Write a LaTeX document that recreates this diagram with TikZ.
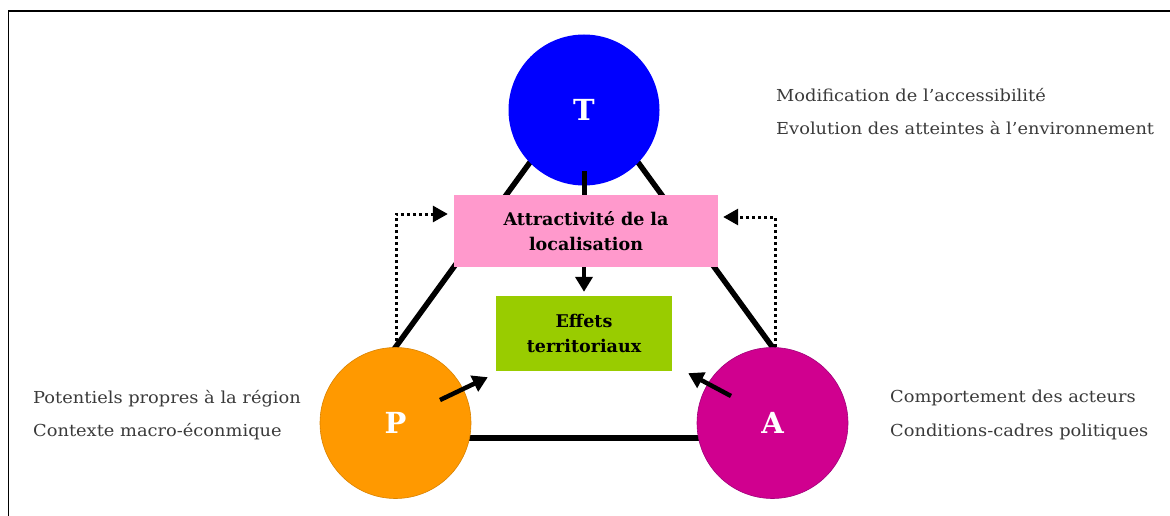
\documentclass[tikz,border=0pt]{standalone}
\usepackage{fontspec}
\setmainfont{DejaVu Serif}
\newfontfamily\notefont{DejaVu Serif}[FakeStretch=1.08]
\usetikzlibrary{arrows.meta,backgrounds,calc}
\definecolor{tblue}{HTML}{0000FF}
\definecolor{pinkbox}{HTML}{FF99CC}
\definecolor{greenbox}{HTML}{99CC00}
\definecolor{porange}{HTML}{FF9900}
\definecolor{porangeedge}{HTML}{D98200}
\definecolor{amag}{HTML}{D0008F}
\definecolor{amagedge}{HTML}{A0007A}
\definecolor{notegray}{HTML}{3A3A3A}
\begin{document}
\begin{tikzpicture}[x=1pt,y=-1pt,
  ball/.style={circle, minimum size=151pt, inner sep=0pt, text=white,
    font=\bfseries\fontsize{29}{29}\selectfont},
  box/.style={rectangle, inner sep=0pt, align=center,
    font=\bfseries\fontsize{17.5}{25}\selectfont},
  thickline/.style={line width=5.5pt},
  arr/.style={line width=4.5pt, -{Triangle[length=15pt,width=17pt]}},
  dotarr/.style={line width=3pt, dash pattern=on 3.2pt off 2.8pt,
    -{Triangle[length=15pt,width=16pt]}},
  note/.style={anchor=base west, inner sep=0pt, text=notegray,
    font=\notefont\fontsize{16.5}{16.5}\selectfont}]
\useasboundingbox (0,0) rectangle (1170,516);
\draw[line width=1.5pt] (8.5,516) -- (8.5,11) -- (1170,11);

% circles
\node[ball, fill=tblue] (T) at (584,110) {T};
\node[ball, fill=porange, draw=porangeedge, line width=0.6pt] (P) at (395.5,423) {P};
\node[ball, fill=amag, draw=amagedge, line width=0.6pt] (A) at (772.5,423) {A};

% boxes
\node[box, fill=pinkbox, minimum width=264pt, minimum height=72pt] (pink) at (586,231)
  {Attractivité de la\\localisation};
\node[box, fill=greenbox, minimum width=176pt, minimum height=75pt] (green) at (584,333.5)
  {Effets\\territoriaux};

\coordinate (apex) at (584,88);

% triangle behind
\begin{scope}[on background layer]
  \draw[thickline, shorten <=-6pt] (P.north) -- (apex);
  \draw[thickline, shorten <=-6pt] (A.north) -- (apex);
  \draw[thickline] ([yshift=-15pt]P.center) -- ([yshift=-15pt]A.center);
\end{scope}

% T to pink
\draw[line width=5pt] ([yshift=-61pt]T.center) -- (T.center |- pink.north);
% pink to green
\draw[arr] (T.center |- pink.south) -- ([yshift=4pt]T.center |- green.north);
% P and A to green
\coordinate (pa) at (440,400);
\coordinate (aa) at (731,396);
\draw[arr] (pa) -- ($(green.south west)+(-8,6)$);
\draw[arr] (aa) -- ($(green.south east)+(16,2)$);

% dotted feedback
\draw[dotarr] ([xshift=0.5pt]P.north) |- ([xshift=-6pt,yshift=17pt]pink.west);
\draw[dotarr] ([xshift=2.5pt]A.north) |- ([xshift=5pt,yshift=14pt]pink.east);

% notes
\node[note] (n1) at (776,102) {Modification de l’accessibilité};
\node[note] (n2) at (776,135) {Evolution des atteintes à l’environnement};
\node[note] (n3) at (33,403) {Potentiels propres à la région};
\node[note] (n4) at (33,436) {Contexte macro-éconmique};
\node[note] (n5) at (890,402) {Comportement des acteurs};
\node[note] (n6) at (890,436) {Conditions-cadres politiques};
\end{tikzpicture}
\end{document}
